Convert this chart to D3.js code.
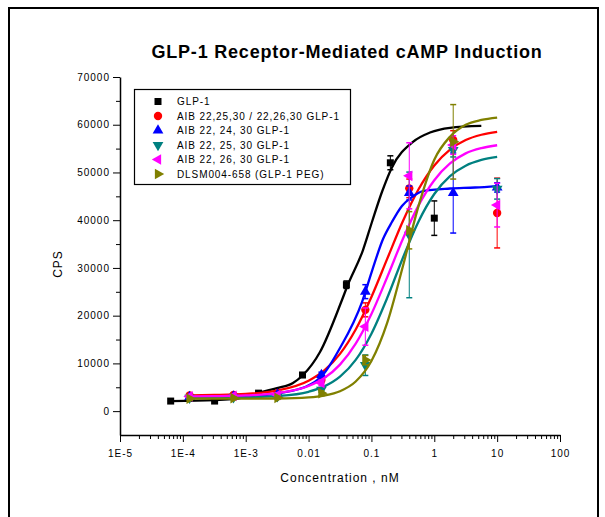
<!DOCTYPE html>
<html lang="en">
<head>
<meta charset="UTF-8">
<title>GLP-1 Receptor-Mediated cAMP Induction</title>
<style>
    body { margin: 0; background: #fff; }
    text { font-family: "Liberation Sans", Arial, sans-serif; }
</style>
</head>
<body>
<script src="https://cdn.jsdelivr.net/npm/d3@7/dist/d3.min.js"></script>
<script>
    // size of the picture
    var w = 605;
    var h = 517;

    // concentrations (nM) of the measured points
    var concGlp1 = [0.000064, 0.00032, 0.0016, 0.008, 0.04, 0.2, 1];
    var concAnalog = [0.000128, 0.00064, 0.0032, 0.016, 0.08, 0.4, 2, 10];
    var concPeg = [0.000128, 0.00064, 0.0032, 0.016, 0.08, 0.4, 2];

    // measured means and error bars (CPS)
    var glp1Mean = [2110, 2110, 3770, 7570, 26490, 52030, 40430];
    var glp1Err = [0, 0, 290, 490, 780, 1460, 3610];
    var redMean = [3280, 3380, 3770, 6500, 21220, 46670, 56810, 41500];
    var redErr = [290, 290, 290, 590, 1460, 1950, 1950, 7310];
    var blueMean = [2990, 3090, 3480, 7570, 25030, 45700, 45700, 46870];
    var blueErr = [290, 290, 290, 590, 1460, 1460, 8390, 980];
    var tealMean = [2800, 2890, 3090, 4450, 9620, 36920, 54710, 46570];
    var tealErr = [290, 290, 290, 490, 2150, 13160, 1460, 2150];
    var magentaMean = [3090, 3190, 3380, 5920, 17710, 49300, 55740, 43160];
    var magentaErr = [290, 290, 290, 590, 3900, 6920, 1950, 4580];
    var oliveMean = [2600, 2700, 2800, 3770, 10690, 37890, 56420];
    var oliveErr = [290, 290, 290, 490, 980, 3900, 7800];

    // fitted curves
    var glp1FitConc = [0.000064, 0.000324, 0.001, 0.00157, 0.00315, 0.00565, 0.00815, 0.0152, 0.034, 0.0408,
        0.0734, 0.102, 0.147, 0.212, 0.458, 0.855, 1.78, 5.6];
    var glp1Fit = [2110, 2310, 2950, 3790, 4840, 5890, 7560, 12380, 23280, 26000,
        33750, 39620, 45910, 51060, 56420, 58370, 59350, 59750];
    var blueFitConc = [0.000128, 0.00056, 0.0017, 0.0051, 0.0088, 0.0163, 0.0316, 0.0708, 0.102, 0.153,
        0.212, 0.306, 0.442, 0.66, 1.78, 4.45, 10];
    var blueFit = [2840, 2950, 3260, 4210, 5050, 7350, 13220, 22860, 29350, 36060,
        39620, 42970, 44860, 46110, 46640, 46850, 47160];
    var fitConc = [0.000128, 0.000316, 0.001, 0.00316, 0.01, 0.0178, 0.0316, 0.0562, 0.1, 0.178,
        0.316, 0.562, 1, 1.78, 3.16, 5.62, 10];
    var redFit = [3320, 3390, 3600, 4300, 6360, 8530, 11990, 17110, 23920, 31890,
        39780, 46480, 51470, 54800, 56800, 57900, 58500];
    var tealFit = [2800, 2820, 2880, 3140, 4050, 5180, 7220, 10740, 16230, 23700,
        32090, 39740, 45490, 49220, 51410, 52620, 53270];
    var magentaFit = [3110, 3150, 3290, 3760, 5260, 6940, 9740, 14130, 20360, 28050,
        36070, 43100, 48370, 51880, 54000, 55100, 55700];
    var oliveFit = [2600, 2600, 2610, 2650, 2880, 3270, 4170, 6200, 10500, 18480,
        30300, 43000, 52670, 57500, 60000, 61000, 61500];

    // axis ticks
    var xTicks = [1e-5, 1e-4, 1e-3, 0.01, 0.1, 1, 10, 100];
    var xTickLabels = ["1E-5", "1E-4", "1E-3", "0.01", "0.1", "1", "10", "100"];
    var yTicks = [0, 10000, 20000, 30000, 40000, 50000, 60000, 70000];

    var legendNames = ["GLP-1", "AIB 22,25,30 / 22,26,30 GLP-1", "AIB 22, 24, 30 GLP-1",
        "AIB 22, 25, 30 GLP-1", "AIB 22, 26, 30 GLP-1", "DLSM004-658 (GLP-1 PEG)"];

    var series = [
        {color: "#000000", shape: d3.symbolSquare, rot: 0, size: 49, conc: concGlp1, mean: glp1Mean, err: glp1Err, fc: glp1FitConc, fit: glp1Fit},
        {color: "#ff0000", shape: d3.symbolCircle, rot: 0, size: 55, conc: concAnalog, mean: redMean, err: redErr, fc: fitConc, fit: redFit},
        {color: "#0000ff", shape: d3.symbolTriangle, rot: 0, size: 50, conc: concAnalog, mean: blueMean, err: blueErr, fc: blueFitConc, fit: blueFit},
        {color: "#008080", shape: d3.symbolTriangle, rot: 180, size: 50, conc: concAnalog, mean: tealMean, err: tealErr, fc: fitConc, fit: tealFit},
        {color: "#ff00ff", shape: d3.symbolTriangle, rot: -90, size: 50, conc: concAnalog, mean: magentaMean, err: magentaErr, fc: fitConc, fit: magentaFit},
        {color: "#808000", shape: d3.symbolTriangle, rot: 90, size: 50, conc: concPeg, mean: oliveMean, err: oliveErr, fc: fitConc, fit: oliveFit}
    ];

    var xScale = d3.scaleLog().domain([1e-5, 100]).range([120, 560]);
    var yScale = d3.scaleLinear().domain([-5000, 70000]).range([435, 77]);

    var svg = d3.select("body")
        .append("svg")
        .attr("width", w)
        .attr("height", h);

    // frame round the picture
    svg.append("rect")
        .attr("x", 9).attr("y", 8)
        .attr("width", 589).attr("height", 530)
        .attr("fill", "none")
        .attr("stroke", "#000")
        .attr("stroke-width", 2);

    // title
    svg.append("text")
        .attr("x", 347).attr("y", 58)
        .attr("text-anchor", "middle")
        .attr("font-size", "18px")
        .attr("font-weight", "bold")
        .attr("letter-spacing", "0.8px")
        .text("GLP-1 Receptor-Mediated cAMP Induction");

    // x axis, major + minor ticks
    var minorX = [];
    for (var e = -5; e < 2; e++) {
        for (var m = 2; m < 10; m++) minorX.push(m * Math.pow(10, e));
    }
    svg.append("g")
        .attr("transform", "translate(0,435)")
        .call(d3.axisBottom(xScale).tickValues(minorX).tickSize(4).tickFormat(""))
        .call(function(g) { g.select(".domain").remove(); });
    var xAxis = svg.append("g")
        .attr("transform", "translate(0,435)")
        .call(d3.axisBottom(xScale).tickValues(xTicks).tickSize(7).tickSizeOuter(0)
            .tickFormat(function(d, i) { return xTickLabels[i]; }));
    xAxis.select(".domain").attr("stroke-width", 1.5);
    xAxis.selectAll("text")
        .attr("font-size", "10px")
        .attr("letter-spacing", "1px")
        .attr("dy", "1.2em");

    // y axis
    var minorY = d3.range(5000, 70000, 10000);
    svg.append("g")
        .attr("transform", "translate(120,0)")
        .call(d3.axisLeft(yScale).tickValues(minorY).tickSize(4).tickFormat(""))
        .call(function(g) { g.select(".domain").remove(); });
    var yAxis = svg.append("g")
        .attr("transform", "translate(120,0)")
        .call(d3.axisLeft(yScale).tickValues(yTicks).tickSize(7).tickSizeOuter(0)
            .tickFormat(d3.format("d")));
    yAxis.select(".domain").attr("stroke-width", 1.5);
    yAxis.selectAll("text")
        .attr("font-size", "10px")
        .attr("letter-spacing", "1px");

    // axis titles
    svg.append("text")
        .attr("x", 340).attr("y", 482)
        .attr("text-anchor", "middle")
        .attr("font-size", "12px")
        .attr("letter-spacing", "1px")
        .text("Concentration , nM");
    svg.append("text")
        .attr("transform", "translate(62,264) rotate(-90)")
        .attr("text-anchor", "middle")
        .attr("font-size", "12px")
        .attr("letter-spacing", "1px")
        .text("CPS");

    var line = d3.line()
        .x(function(d) { return xScale(d[0]); })
        .y(function(d) { return yScale(d[1]); })
        .curve(d3.curveMonotoneX);

    series.forEach(function(s) {
        var g = svg.append("g");
        var fitPts = s.fc.map(function(c, i) { return [c, s.fit[i]]; });
        g.append("path")
            .datum(fitPts)
            .attr("d", line)
            .attr("fill", "none")
            .attr("stroke", s.color)
            .attr("stroke-width", 2.3);

        var pts = s.conc.map(function(c, i) { return {c: c, v: s.mean[i], e: s.err[i]}; });
        var bars = g.selectAll(".eb")
            .data(pts.filter(function(d) { return d.e > 0; }))
            .enter().append("g")
            .attr("stroke", s.color)
            .attr("stroke-width", 1);
        bars.append("line")
            .attr("x1", function(d) { return xScale(d.c); })
            .attr("x2", function(d) { return xScale(d.c); })
            .attr("y1", function(d) { return yScale(d.v - d.e); })
            .attr("y2", function(d) { return yScale(d.v + d.e); });
        [-1, 1].forEach(function(sign) {
            bars.append("line")
                .attr("x1", function(d) { return xScale(d.c) - 3; })
                .attr("x2", function(d) { return xScale(d.c) + 3; })
                .attr("y1", function(d) { return yScale(d.v + sign * d.e); })
                .attr("y2", function(d) { return yScale(d.v + sign * d.e); })
                .attr("stroke-width", 1.5);
        });

        g.selectAll(".pt")
            .data(pts)
            .enter().append("path")
            .attr("d", d3.symbol().type(s.shape).size(s.size))
            .attr("transform", function(d) {
                return "translate(" + xScale(d.c) + "," + yScale(d.v) + ") rotate(" + s.rot + ")";
            })
            .attr("fill", s.color);
    });

    // legend
    var legend = svg.append("g");
    legend.append("rect")
        .attr("x", 134.5).attr("y", 89.5)
        .attr("width", 216).attr("height", 95)
        .attr("fill", "#fff")
        .attr("stroke", "#000")
        .attr("stroke-width", 1.2);
    series.forEach(function(s, i) {
        var yy = 101.5 + i * 14.5;
        legend.append("path")
            .attr("d", d3.symbol().type(s.shape).size(s.size))
            .attr("transform", "translate(158," + yy + ") rotate(" + s.rot + ")")
            .attr("fill", s.color);
        legend.append("text")
            .attr("x", 177).attr("y", yy + 3.5)
            .attr("font-size", "10px")
            .attr("letter-spacing", "0.9px")
            .text(legendNames[i]);
    });
</script>
</body>
</html>
